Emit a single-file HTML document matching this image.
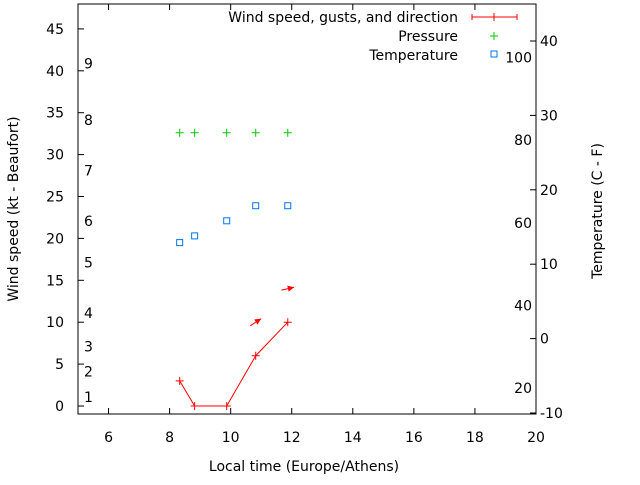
<!DOCTYPE html>
<html><head><meta charset="utf-8"><style>
body{margin:0;background:#fff}
svg{font-family:"DejaVu Sans","Liberation Sans",sans-serif;font-size:14px}
</style></head><body>
<svg id="c" width="640" height="480" viewBox="0 0 640 480">
<rect x="78" y="4" width="458" height="410" fill="none" stroke="#000"/>
<g id="ax"></g><g id="marks"></g>
<text x="304" y="471" text-anchor="middle">Local time (Europe/Athens)</text>
<text transform="translate(18,209) rotate(-90)" text-anchor="middle">Wind speed (kt - Beaufort)</text>
<text transform="translate(602,211) rotate(-90)" text-anchor="middle">Temperature (C - F)</text>
<g>
<text x="458" y="22" text-anchor="end">Wind speed, gusts, and direction</text>
<path d="M472 17H517M472 14v6M517 14v6M494 13v8" stroke="#f00" fill="none"/>
<text x="458" y="41" text-anchor="end">Pressure</text>
<path d="M490 36h8M494 32v8" stroke="#0c0"/>
<text x="458" y="60" text-anchor="end">Temperature</text>
<rect x="491" y="51" width="6" height="6" fill="none" stroke="#07e"/>
</g>
</svg>
<script>
const times=[8.33,8.82,9.87,10.82,11.87];
const wind=[3,0,0,6,10];
const gusts=[null,null,null,10,14];
const gustDir=[null,null,null,33,13];
const pressure=[32.6,32.6,32.6,32.6,32.6];
const temperature=[19.5,20.3,22.1,23.9,23.9];
const xTicks=[6,8,10,12,14,16,18,20];
const yTicks=[0,5,10,15,20,25,30,35,40,45];
const y2Ticks=[-10,0,10,20,30,40];
const beaufort=[[1,1.1],[2,4.1],[3,7.1],[4,11.1],[5,17.1],[6,22.1],[7,28.1],[8,34.1],[9,40.9]];
const fahr=[20,40,60,80,100];
const X=v=>78+(v-5)*458/15, Y=v=>406-v*8.38, Y2=v=>413-(v+10)*7.44;
const NS='http://www.w3.org/2000/svg';
function mk(t,a,p){const e=document.createElementNS(NS,t);for(const k in a)e.setAttribute(k,a[k]);p.appendChild(e);return e;}
const ax=document.getElementById('ax'),m=document.getElementById('marks');
xTicks.forEach(v=>{const x=X(v);mk('path',{d:`M${x} 414v-6M${x} 4v6`,stroke:'#000'},ax);
const t=mk('text',{x:x,y:442,'text-anchor':'middle'},ax);t.textContent=v;

});
yTicks.forEach(v=>{const y=Y(v);mk('path',{d:`M78 ${y}h6`,stroke:'#000'},ax);
const t=mk('text',{x:64,y:y+5,'text-anchor':'end'},ax);t.textContent=v;

});
y2Ticks.forEach(v=>{const y=Y2(v);mk('path',{d:`M536 ${y}h-6`,stroke:'#000'},ax);
const t=mk('text',{x:540,y:y+5},ax);t.textContent=v;

});
beaufort.forEach(([l,v])=>{const t=mk('text',{x:84,y:Y(v)+5},ax);t.textContent=l;

});
fahr.forEach(f=>{const t=mk('text',{x:532,y:Y2((f-32)*5/9)+5,'text-anchor':'end'},ax);t.textContent=f;

});
const wl=mk('polyline',{points:times.map((t,i)=>X(t)+','+Y(wind[i])).join(' '),fill:'none',stroke:'#f00'},m);


times.forEach((t,i)=>{const x=X(t),y=Y(wind[i]);
const p=mk('path',{d:`M${x-4} ${y}h8M${x} ${y-4}v8`,stroke:'#f00'},m);


const q=mk('path',{d:`M${x-4} ${Y(pressure[i])}h8M${x} ${Y(pressure[i])-4}v8`,stroke:'#0c0'},m);


const r=mk('rect',{x:x-3,y:Y(temperature[i])-3,width:6,height:6,fill:'none',stroke:'#07e'},m);


if(gusts[i]!=null){const a=gustDir[i]*Math.PI/180,cx=x,cy=Y(gusts[i]),dx=6.5*Math.cos(a),dy=-6.5*Math.sin(a);
const g=mk('g',{},m);


mk('path',{d:`M${cx-dx} ${cy-dy}L${cx+dx} ${cy+dy}`,stroke:'#f00'},g);
const hx=cx+dx,hy=cy+dy,b=Math.atan2(dy,dx);
mk('path',{d:`M${hx} ${hy}L${hx-7*Math.cos(b-0.45)} ${hy-7*Math.sin(b-0.45)}L${hx-7*Math.cos(b+0.45)} ${hy-7*Math.sin(b+0.45)}Z`,fill:'#f00'},g);}
});
</script>
</body></html>
